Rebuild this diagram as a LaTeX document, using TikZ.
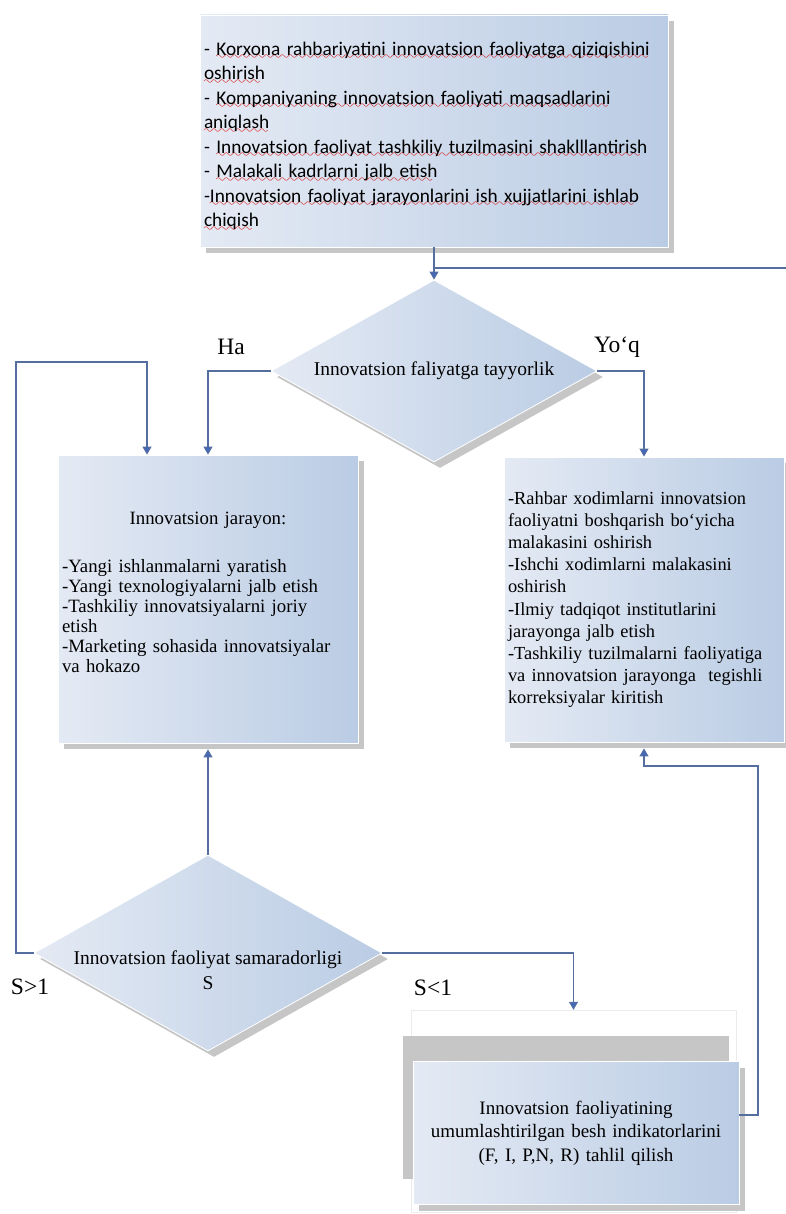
\documentclass[tikz,border=0pt]{standalone}
\usepackage{fontspec}
\setmainfont{Liberation Serif}
\newfontfamily\calibrifont{Carlito}
\usetikzlibrary{shapes.geometric,shadows,arrows.meta}

\definecolor{boxlight}{RGB}{228,234,244}
\definecolor{boxdark}{RGB}{186,204,228}
\definecolor{linecol}{RGB}{84,110,160}
\definecolor{tipcol}{RGB}{68,104,186}
\definecolor{shadowcol}{RGB}{198,198,198}

% wavy red spell-check line
\font\wavefont=lasy10 at 12pt
\newcommand\redwave[1]{\leavevmode\setbox0=\hbox{#1}\rlap{\lower4.5pt\hbox to \wd0{\color{red!85!black}\leaders\hbox{\wavefont\char58}\hfill}}\box0}

\tikzset{
  panel/.style={draw=white, line width=0.8pt, left color=boxlight, right color=boxdark, inner sep=4pt,
    drop shadow={shadow xshift=6pt, shadow yshift=-6pt, fill=shadowcol, opacity=1}},
  decision/.style={panel, diamond, shape aspect=1.8, inner sep=0pt, align=center, font=\fontsize{19.5}{25}\selectfont},
  link/.style={draw=linecol, line width=1.1pt},
  flow/.style={link, -{Triangle[width=9pt,length=8pt,fill=tipcol]}},
  tag/.style={font=\fontsize{23.5}{26}\selectfont}
}

\begin{document}
\begin{tikzpicture}[x=1pt, y=-1pt]
\useasboundingbox (0,0) rectangle (786,1214);

% top block
\node[panel, minimum width=468pt, minimum height=232pt, text width=460pt, align=left,
  font=\calibrifont\fontsize{19.3}{24.5}\selectfont] (top) at (434,131)
  {\mbox{}\\
   - \redwave{Korxona rahbariyatini innovatsion faoliyatga qiziqishini}\\
   \redwave{oshirish}\\
   - \redwave{Kompaniyaning innovatsion faoliyati maqsadlarini}\\
   \redwave{aniqlash}\\
   - \redwave{Innovatsion faoliyat tashkiliy tuzilmasini shaklllantirish}\\
   - \redwave{Malakali kadrlarni jalb etish}\\
   -\redwave{Innovatsion faoliyat jarayonlarini ish xujjatlarini ishlab}\\
   \redwave{chiqish}};

\node[decision, minimum width=326pt, minimum height=182pt] (tay) at (434,371) {Innovatsion faliyatga tayyorlik};

\node[panel, minimum width=300pt, minimum height=288pt, text width=292pt, align=left,
  font=\fontsize{18.8}{20}\selectfont] (jar) at (208,599)
  {\makebox[\linewidth]{Innovatsion jarayon:}\\[28pt]
   -Yangi ishlanmalarni yaratish\\
   -Yangi texnologiyalarni jalb etish\\
   -Tashkiliy innovatsiyalarni joriy\\
   etish\\
   -Marketing sohasida innovatsiyalar\\
   va hokazo\\[-6pt]
   \mbox{}};

\node[panel, minimum width=280pt, minimum height=285pt, text width=272pt, align=left,
  font=\fontsize{18.4}{22.2}\selectfont] (kor) at (644,599.5)
  {-Rahbar xodimlarni innovatsion\\
   faoliyatni boshqarish bo‘yicha\\
   malakasini oshirish\\
   -Ishchi xodimlarni malakasini\\
   oshirish\\
   -Ilmiy tadqiqot institutlarini\\
   jarayonga jalb etish\\
   \makebox[\linewidth][s]{-Tashkiliy tuzilmalarni faoliyatiga}\\
   \makebox[\linewidth][s]{va innovatsion jarayonga\ \ tegishli}\\
   korreksiyalar kiritish};

\node[decision, minimum width=348pt, minimum height=196pt, text height=73pt, text depth=0pt,
  inner ysep=-30pt] (sam) at (208,953)
  {Innovatsion faoliyat samaradorligi\\S};

% bottom block
\node[draw=gray!15, minimum width=325pt, minimum height=202pt] (grp) at (573.5,1111) {};
\node[panel, drop shadow={shadow xshift=-10pt, shadow yshift=26pt, fill=shadowcol, opacity=1},
  minimum width=326pt, minimum height=143pt, text width=318pt, align=center,
  font=\fontsize{19}{23.5}\selectfont] (tah) at (576,1133)
  {Innovatsion faoliyatining\\
   umumlashtirilgan besh indikatorlarini\\
   (F, I, P,N, R) tahlil qilish};

% labels
\node[tag] (lha) at (231,347) {Ha};
\node[tag] (lyoq) at (617,347) {Yo‘q};
\node[tag] (lsgt) at (30,987) {S>1};
\node[tag] (lslt) at (433,988) {S<1};

% connectors
\coordinate (rin) at (786,268);
\coordinate (lc) at (16,362);
\coordinate (rc) at (758,766);
\draw[flow] (top.south) -- (tay.north);
\draw[link] (rin) -- (rin -| top.south);
\draw[flow] (tay.west) -| (jar.north);
\draw[flow] (tay.east) -| (kor.north);
\draw[flow] (sam.west) -| (lc) -| ([xshift=-61pt]jar.north);
\draw[flow] (sam.north) -- ([yshift=-6pt]jar.south);
\draw[flow] (sam.east) -| (grp.north);
\draw[flow] ([yshift=18pt]tah.east) -| (rc) -| ([yshift=-6pt]kor.south);
\end{tikzpicture}
\end{document}
